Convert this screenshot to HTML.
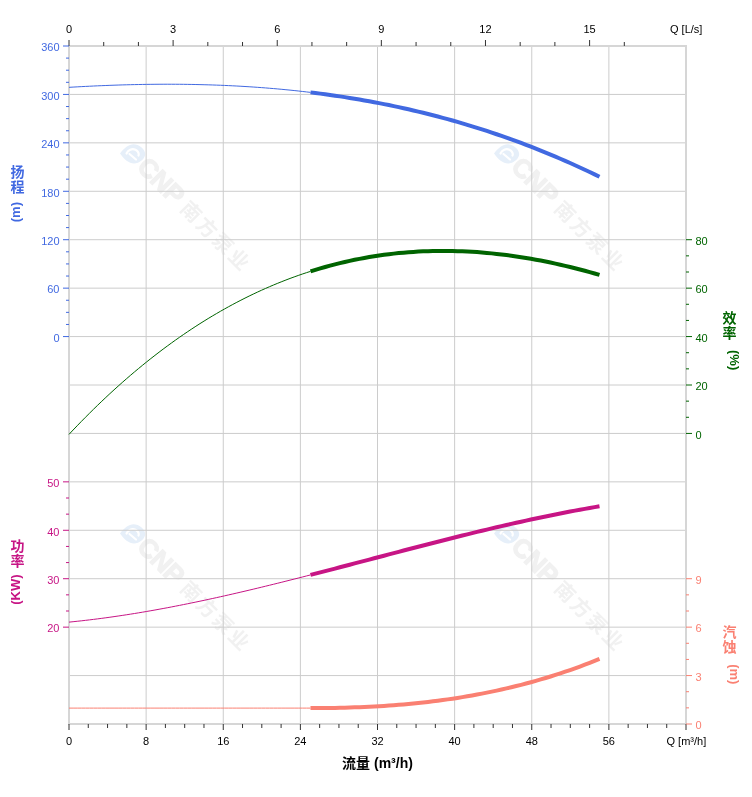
<!DOCTYPE html>
<html><head><meta charset="utf-8"><title>Pump curve</title>
<style>
html,body{margin:0;padding:0;background:#fff;}
body{width:752px;height:797px;overflow:hidden;position:relative;}
svg{position:absolute;left:0;top:0;}
.lbl{font-family:"Liberation Sans",Arial,sans-serif;font-size:11px;}
.ttl{font-family:"Liberation Sans","Noto Sans CJK SC",sans-serif;font-size:13px;font-weight:bold;}
.cjk{font-family:"Liberation Sans","Noto Sans CJK SC",sans-serif;font-size:14px;font-weight:bold;}
.wm{font-family:"Liberation Sans","Noto Sans CJK SC",sans-serif;}
</style></head><body>

<svg width="752" height="797" viewBox="0 0 752 797">

<g transform="translate(133,154)">
<path d="M-13,-0.4 C-9,-6 -4,-9.6 0.5,-9.7 C6,-9.7 12,-5 12.2,0 C12.2,5 6,9.6 1,9.5 C-4,9.5 -9,5.5 -13,-0.4 Z" fill="#e6eff9"/>
<path d="M3,5.5 L-3.5,0 M-6.5,-0.5 C-5,-4 -1,-5.8 2.5,-4.2 C5.2,-3 6.3,0 5.5,1.5" fill="none" stroke="#fff" stroke-width="2.2" stroke-linecap="round"/>
</g>
<g transform="translate(133,154) rotate(45)">
<text class="wm" x="12" y="8" font-size="26" font-weight="bold" letter-spacing="-0.5" fill="#f1f1f1" stroke="#f1f1f1" stroke-width="1.2">CNP</text>
<text class="wm" x="72" y="7" font-size="20" font-weight="bold" letter-spacing="2.5" fill="#f1f1f1">南方泵业</text>
</g>
<g transform="translate(507,154)">
<path d="M-13,-0.4 C-9,-6 -4,-9.6 0.5,-9.7 C6,-9.7 12,-5 12.2,0 C12.2,5 6,9.6 1,9.5 C-4,9.5 -9,5.5 -13,-0.4 Z" fill="#e6eff9"/>
<path d="M3,5.5 L-3.5,0 M-6.5,-0.5 C-5,-4 -1,-5.8 2.5,-4.2 C5.2,-3 6.3,0 5.5,1.5" fill="none" stroke="#fff" stroke-width="2.2" stroke-linecap="round"/>
</g>
<g transform="translate(507,154) rotate(45)">
<text class="wm" x="12" y="8" font-size="26" font-weight="bold" letter-spacing="-0.5" fill="#f1f1f1" stroke="#f1f1f1" stroke-width="1.2">CNP</text>
<text class="wm" x="72" y="7" font-size="20" font-weight="bold" letter-spacing="2.5" fill="#f1f1f1">南方泵业</text>
</g>
<g transform="translate(133,534)">
<path d="M-13,-0.4 C-9,-6 -4,-9.6 0.5,-9.7 C6,-9.7 12,-5 12.2,0 C12.2,5 6,9.6 1,9.5 C-4,9.5 -9,5.5 -13,-0.4 Z" fill="#e6eff9"/>
<path d="M3,5.5 L-3.5,0 M-6.5,-0.5 C-5,-4 -1,-5.8 2.5,-4.2 C5.2,-3 6.3,0 5.5,1.5" fill="none" stroke="#fff" stroke-width="2.2" stroke-linecap="round"/>
</g>
<g transform="translate(133,534) rotate(45)">
<text class="wm" x="12" y="8" font-size="26" font-weight="bold" letter-spacing="-0.5" fill="#f1f1f1" stroke="#f1f1f1" stroke-width="1.2">CNP</text>
<text class="wm" x="72" y="7" font-size="20" font-weight="bold" letter-spacing="2.5" fill="#f1f1f1">南方泵业</text>
</g>
<g transform="translate(507,534)">
<path d="M-13,-0.4 C-9,-6 -4,-9.6 0.5,-9.7 C6,-9.7 12,-5 12.2,0 C12.2,5 6,9.6 1,9.5 C-4,9.5 -9,5.5 -13,-0.4 Z" fill="#e6eff9"/>
<path d="M3,5.5 L-3.5,0 M-6.5,-0.5 C-5,-4 -1,-5.8 2.5,-4.2 C5.2,-3 6.3,0 5.5,1.5" fill="none" stroke="#fff" stroke-width="2.2" stroke-linecap="round"/>
</g>
<g transform="translate(507,534) rotate(45)">
<text class="wm" x="12" y="8" font-size="26" font-weight="bold" letter-spacing="-0.5" fill="#f1f1f1" stroke="#f1f1f1" stroke-width="1.2">CNP</text>
<text class="wm" x="72" y="7" font-size="20" font-weight="bold" letter-spacing="2.5" fill="#f1f1f1">南方泵业</text>
</g>
<path d="M69.0,94.429H686.0M69.0,142.857H686.0M69.0,191.286H686.0M69.0,239.714H686.0M69.0,288.143H686.0M69.0,336.571H686.0M69.0,385.000H686.0M69.0,433.429H686.0M69.0,481.857H686.0M69.0,530.286H686.0M69.0,578.714H686.0M69.0,627.143H686.0M69.0,675.571H686.0M146.125,46.0V724.0M223.250,46.0V724.0M300.375,46.0V724.0M377.500,46.0V724.0M454.625,46.0V724.0M531.750,46.0V724.0M608.875,46.0V724.0" stroke="#cccccc" stroke-width="1" fill="none"/>
<rect x="69.0" y="46.0" width="617.0" height="678.0" fill="none" stroke="#d6d6d6" stroke-width="2"/>
<path d="M69.000,46.0v-6M103.706,46.0v-4M138.413,46.0v-4M173.119,46.0v-6M207.825,46.0v-4M242.531,46.0v-4M277.238,46.0v-6M311.944,46.0v-4M346.650,46.0v-4M381.356,46.0v-6M416.063,46.0v-4M450.769,46.0v-4M485.475,46.0v-6M520.181,46.0v-4M554.888,46.0v-4M589.594,46.0v-6M624.300,46.0v-4" stroke="#333" stroke-width="1" fill="none"/>
<path d="M69.000,724.0v6M88.281,724.0v4M107.562,724.0v4M126.844,724.0v4M146.125,724.0v6M165.406,724.0v4M184.688,724.0v4M203.969,724.0v4M223.250,724.0v6M242.531,724.0v4M261.812,724.0v4M281.094,724.0v4M300.375,724.0v6M319.656,724.0v4M338.938,724.0v4M358.219,724.0v4M377.500,724.0v6M396.781,724.0v4M416.062,724.0v4M435.344,724.0v4M454.625,724.0v6M473.906,724.0v4M493.188,724.0v4M512.469,724.0v4M531.750,724.0v6M551.031,724.0v4M570.312,724.0v4M589.594,724.0v4M608.875,724.0v6M628.156,724.0v4M647.438,724.0v4M666.719,724.0v4M686.000,724.0v6" stroke="#333" stroke-width="1" fill="none"/>
<path d="M69.0,336.571h-6M69.0,324.464h-3M69.0,312.357h-3M69.0,300.250h-3M69.0,288.143h-6M69.0,276.036h-3M69.0,263.929h-3M69.0,251.821h-3M69.0,239.714h-6M69.0,227.607h-3M69.0,215.500h-3M69.0,203.393h-3M69.0,191.286h-6M69.0,179.179h-3M69.0,167.071h-3M69.0,154.964h-3M69.0,142.857h-6M69.0,130.750h-3M69.0,118.643h-3M69.0,106.536h-3M69.0,94.429h-6M69.0,82.321h-3M69.0,70.214h-3M69.0,58.107h-3M69.0,46.000h-6" stroke="#4169e1" stroke-width="1" fill="none"/>
<path d="M69.0,627.143h-6M69.0,611.000h-3M69.0,594.857h-3M69.0,578.714h-6M69.0,562.571h-3M69.0,546.429h-3M69.0,530.286h-6M69.0,514.143h-3M69.0,498.000h-3M69.0,481.857h-6" stroke="#c71585" stroke-width="1" fill="none"/>
<path d="M686.0,433.429h6M686.0,417.286h3M686.0,401.143h3M686.0,385.000h6M686.0,368.857h3M686.0,352.714h3M686.0,336.571h6M686.0,320.429h3M686.0,304.286h3M686.0,288.143h6M686.0,272.000h3M686.0,255.857h3M686.0,239.714h6" stroke="#006400" stroke-width="1" fill="none"/>
<path d="M686.0,724.000h6M686.0,707.857h3M686.0,691.714h3M686.0,675.571h6M686.0,659.429h3M686.0,643.286h3M686.0,627.143h6M686.0,611.000h3M686.0,594.857h3M686.0,578.714h6" stroke="#fa8072" stroke-width="1" fill="none"/>
<g class="lbl"><text x="69.00" y="33" text-anchor="middle" fill="#000">0</text>
<text x="173.12" y="33" text-anchor="middle" fill="#000">3</text>
<text x="277.24" y="33" text-anchor="middle" fill="#000">6</text>
<text x="381.36" y="33" text-anchor="middle" fill="#000">9</text>
<text x="485.48" y="33" text-anchor="middle" fill="#000">12</text>
<text x="589.59" y="33" text-anchor="middle" fill="#000">15</text>
<text x="670" y="33" fill="#000">Q [L/s]</text>
<text x="69.00" y="745" text-anchor="middle" fill="#000">0</text>
<text x="146.12" y="745" text-anchor="middle" fill="#000">8</text>
<text x="223.25" y="745" text-anchor="middle" fill="#000">16</text>
<text x="300.38" y="745" text-anchor="middle" fill="#000">24</text>
<text x="377.50" y="745" text-anchor="middle" fill="#000">32</text>
<text x="454.62" y="745" text-anchor="middle" fill="#000">40</text>
<text x="531.75" y="745" text-anchor="middle" fill="#000">48</text>
<text x="608.88" y="745" text-anchor="middle" fill="#000">56</text>
<text x="666.5" y="745" fill="#000">Q [m³/h]</text>
<text x="59.5" y="51.30" text-anchor="end" fill="#4169e1">360</text>
<text x="59.5" y="99.73" text-anchor="end" fill="#4169e1">300</text>
<text x="59.5" y="148.16" text-anchor="end" fill="#4169e1">240</text>
<text x="59.5" y="196.59" text-anchor="end" fill="#4169e1">180</text>
<text x="59.5" y="245.01" text-anchor="end" fill="#4169e1">120</text>
<text x="59.5" y="293.44" text-anchor="end" fill="#4169e1">60</text>
<text x="59.5" y="341.87" text-anchor="end" fill="#4169e1">0</text>
<text x="59.5" y="487.16" text-anchor="end" fill="#c71585">50</text>
<text x="59.5" y="535.59" text-anchor="end" fill="#c71585">40</text>
<text x="59.5" y="584.01" text-anchor="end" fill="#c71585">30</text>
<text x="59.5" y="632.44" text-anchor="end" fill="#c71585">20</text>
<text x="695.5" y="245.01" fill="#006400">80</text>
<text x="695.5" y="293.44" fill="#006400">60</text>
<text x="695.5" y="341.87" fill="#006400">40</text>
<text x="695.5" y="390.30" fill="#006400">20</text>
<text x="695.5" y="438.73" fill="#006400">0</text>
<text x="695.5" y="584.01" fill="#fa8072">9</text>
<text x="695.5" y="632.44" fill="#fa8072">6</text>
<text x="695.5" y="680.87" fill="#fa8072">3</text>
<text x="695.5" y="729.30" fill="#fa8072">0</text></g>
<path d="M69.00,87.33 L73.09,87.09 L77.19,86.86 L81.28,86.64 L85.37,86.43 L89.47,86.22 L93.56,86.03 L97.65,85.84 L101.75,85.66 L105.84,85.50 L109.93,85.34 L114.03,85.19 L118.12,85.05 L122.21,84.92 L126.31,84.81 L130.40,84.70 L134.49,84.60 L138.58,84.52 L142.68,84.44 L146.77,84.38 L150.86,84.33 L154.96,84.29 L159.05,84.26 L163.14,84.24 L167.24,84.23 L171.33,84.24 L175.42,84.25 L179.52,84.28 L183.61,84.32 L187.70,84.38 L191.80,84.44 L195.89,84.52 L199.98,84.61 L204.08,84.72 L208.17,84.83 L212.26,84.96 L216.36,85.11 L220.45,85.26 L224.54,85.43 L228.64,85.62 L232.73,85.82 L236.82,86.03 L240.92,86.26 L245.01,86.50 L249.10,86.75 L253.19,87.02 L257.29,87.30 L261.38,87.60 L265.47,87.92 L269.57,88.25 L273.66,88.59 L277.75,88.95 L281.85,89.32 L285.94,89.72 L290.03,90.12 L294.13,90.54 L298.22,90.98 L302.31,91.44 L306.41,91.91 L310.50,92.39" stroke="#4169e1" stroke-width="1" fill="none"/>
<path d="M310.50,92.39 L315.40,93.00 L320.30,93.63 L325.19,94.28 L330.09,94.96 L334.99,95.66 L339.89,96.39 L344.79,97.14 L349.69,97.92 L354.58,98.72 L359.48,99.55 L364.38,100.41 L369.28,101.29 L374.18,102.20 L379.08,103.13 L383.97,104.09 L388.87,105.08 L393.77,106.10 L398.67,107.15 L403.57,108.22 L408.47,109.32 L413.36,110.45 L418.26,111.61 L423.16,112.79 L428.06,114.01 L432.96,115.25 L437.86,116.53 L442.75,117.84 L447.65,119.17 L452.55,120.54 L457.45,121.93 L462.35,123.36 L467.25,124.82 L472.14,126.31 L477.04,127.83 L481.94,129.38 L486.84,130.96 L491.74,132.58 L496.64,134.23 L501.53,135.91 L506.43,137.62 L511.33,139.37 L516.23,141.15 L521.13,142.97 L526.03,144.82 L530.92,146.70 L535.82,148.62 L540.72,150.57 L545.62,152.55 L550.52,154.57 L555.42,156.63 L560.31,158.72 L565.21,160.85 L570.11,163.02 L575.01,165.22 L579.91,167.45 L584.81,169.73 L589.70,172.04 L594.60,174.38 L599.50,176.77" stroke="#4169e1" stroke-width="4" fill="none"/>
<path d="M69.00,434.36 L73.09,430.03 L77.19,425.75 L81.28,421.53 L85.37,417.37 L89.47,413.27 L93.56,409.22 L97.65,405.24 L101.75,401.31 L105.84,397.44 L109.93,393.62 L114.03,389.86 L118.12,386.16 L122.21,382.52 L126.31,378.93 L130.40,375.40 L134.49,371.92 L138.58,368.50 L142.68,365.13 L146.77,361.82 L150.86,358.56 L154.96,355.36 L159.05,352.21 L163.14,349.12 L167.24,346.07 L171.33,343.09 L175.42,340.15 L179.52,337.27 L183.61,334.44 L187.70,331.66 L191.80,328.93 L195.89,326.26 L199.98,323.64 L204.08,321.06 L208.17,318.54 L212.26,316.07 L216.36,313.66 L220.45,311.29 L224.54,308.97 L228.64,306.70 L232.73,304.48 L236.82,302.31 L240.92,300.19 L245.01,298.11 L249.10,296.09 L253.19,294.11 L257.29,292.18 L261.38,290.30 L265.47,288.47 L269.57,286.68 L273.66,284.95 L277.75,283.25 L281.85,281.61 L285.94,280.01 L290.03,278.45 L294.13,276.95 L298.22,275.48 L302.31,274.06 L306.41,272.69 L310.50,271.36" stroke="#006400" stroke-width="1" fill="none"/>
<path d="M310.50,271.36 L315.40,269.83 L320.30,268.36 L325.19,266.96 L330.09,265.62 L334.99,264.34 L339.89,263.12 L344.79,261.96 L349.69,260.86 L354.58,259.82 L359.48,258.84 L364.38,257.92 L369.28,257.06 L374.18,256.26 L379.08,255.52 L383.97,254.83 L388.87,254.20 L393.77,253.63 L398.67,253.11 L403.57,252.65 L408.47,252.24 L413.36,251.89 L418.26,251.59 L423.16,251.35 L428.06,251.16 L432.96,251.03 L437.86,250.94 L442.75,250.91 L447.65,250.93 L452.55,251.00 L457.45,251.13 L462.35,251.30 L467.25,251.53 L472.14,251.80 L477.04,252.12 L481.94,252.49 L486.84,252.91 L491.74,253.38 L496.64,253.89 L501.53,254.46 L506.43,255.07 L511.33,255.72 L516.23,256.42 L521.13,257.17 L526.03,257.96 L530.92,258.79 L535.82,259.67 L540.72,260.59 L545.62,261.56 L550.52,262.57 L555.42,263.62 L560.31,264.71 L565.21,265.85 L570.11,267.02 L575.01,268.24 L579.91,269.49 L584.81,270.79 L589.70,272.12 L594.60,273.49 L599.50,274.91" stroke="#006400" stroke-width="4" fill="none"/>
<path d="M69.00,622.13 L73.09,621.71 L77.19,621.28 L81.28,620.84 L85.37,620.37 L89.47,619.89 L93.56,619.39 L97.65,618.87 L101.75,618.34 L105.84,617.79 L109.93,617.22 L114.03,616.64 L118.12,616.04 L122.21,615.43 L126.31,614.80 L130.40,614.16 L134.49,613.50 L138.58,612.83 L142.68,612.15 L146.77,611.45 L150.86,610.73 L154.96,610.00 L159.05,609.26 L163.14,608.51 L167.24,607.75 L171.33,606.97 L175.42,606.18 L179.52,605.38 L183.61,604.56 L187.70,603.74 L191.80,602.90 L195.89,602.05 L199.98,601.20 L204.08,600.33 L208.17,599.45 L212.26,598.56 L216.36,597.66 L220.45,596.76 L224.54,595.84 L228.64,594.91 L232.73,593.98 L236.82,593.04 L240.92,592.09 L245.01,591.13 L249.10,590.16 L253.19,589.19 L257.29,588.21 L261.38,587.22 L265.47,586.23 L269.57,585.23 L273.66,584.22 L277.75,583.21 L281.85,582.19 L285.94,581.17 L290.03,580.14 L294.13,579.10 L298.22,578.07 L302.31,577.02 L306.41,575.98 L310.50,574.93" stroke="#c71585" stroke-width="1" fill="none"/>
<path d="M310.50,574.93 L315.40,573.67 L320.30,572.40 L325.19,571.13 L330.09,569.85 L334.99,568.58 L339.89,567.29 L344.79,566.01 L349.69,564.72 L354.58,563.44 L359.48,562.15 L364.38,560.86 L369.28,559.57 L374.18,558.28 L379.08,556.99 L383.97,555.70 L388.87,554.41 L393.77,553.12 L398.67,551.84 L403.57,550.56 L408.47,549.28 L413.36,548.00 L418.26,546.73 L423.16,545.47 L428.06,544.20 L432.96,542.95 L437.86,541.69 L442.75,540.45 L447.65,539.21 L452.55,537.98 L457.45,536.75 L462.35,535.53 L467.25,534.33 L472.14,533.12 L477.04,531.93 L481.94,530.75 L486.84,529.58 L491.74,528.42 L496.64,527.26 L501.53,526.12 L506.43,524.99 L511.33,523.88 L516.23,522.77 L521.13,521.68 L526.03,520.60 L530.92,519.54 L535.82,518.49 L540.72,517.45 L545.62,516.43 L550.52,515.43 L555.42,514.44 L560.31,513.46 L565.21,512.51 L570.11,511.57 L575.01,510.65 L579.91,509.74 L584.81,508.86 L589.70,507.99 L594.60,507.14 L599.50,506.31" stroke="#c71585" stroke-width="4" fill="none"/>
<path d="M69.00,708.10 L73.09,708.10 L77.19,708.10 L81.28,708.10 L85.37,708.10 L89.47,708.10 L93.56,708.10 L97.65,708.10 L101.75,708.10 L105.84,708.10 L109.93,708.10 L114.03,708.10 L118.12,708.10 L122.21,708.10 L126.31,708.10 L130.40,708.10 L134.49,708.10 L138.58,708.10 L142.68,708.10 L146.77,708.10 L150.86,708.10 L154.96,708.10 L159.05,708.10 L163.14,708.10 L167.24,708.10 L171.33,708.10 L175.42,708.10 L179.52,708.10 L183.61,708.10 L187.70,708.10 L191.80,708.10 L195.89,708.10 L199.98,708.10 L204.08,708.10 L208.17,708.10 L212.26,708.10 L216.36,708.10 L220.45,708.10 L224.54,708.10 L228.64,708.10 L232.73,708.10 L236.82,708.10 L240.92,708.10 L245.01,708.10 L249.10,708.10 L253.19,708.10 L257.29,708.10 L261.38,708.10 L265.47,708.10 L269.57,708.10 L273.66,708.10 L277.75,708.10 L281.85,708.10 L285.94,708.10 L290.03,708.10 L294.13,708.10 L298.22,708.10 L302.31,708.10 L306.41,708.10 L310.50,708.10" stroke="#fa8072" stroke-width="1" fill="none"/>
<path d="M310.50,708.10 L315.40,708.09 L320.30,708.07 L325.19,708.03 L330.09,707.96 L334.99,707.88 L339.89,707.78 L344.79,707.66 L349.69,707.52 L354.58,707.36 L359.48,707.17 L364.38,706.96 L369.28,706.73 L374.18,706.47 L379.08,706.19 L383.97,705.89 L388.87,705.55 L393.77,705.20 L398.67,704.81 L403.57,704.40 L408.47,703.96 L413.36,703.49 L418.26,703.00 L423.16,702.47 L428.06,701.91 L432.96,701.32 L437.86,700.70 L442.75,700.05 L447.65,699.37 L452.55,698.65 L457.45,697.90 L462.35,697.12 L467.25,696.30 L472.14,695.44 L477.04,694.55 L481.94,693.62 L486.84,692.66 L491.74,691.65 L496.64,690.61 L501.53,689.53 L506.43,688.41 L511.33,687.26 L516.23,686.06 L521.13,684.82 L526.03,683.53 L530.92,682.21 L535.82,680.84 L540.72,679.43 L545.62,677.97 L550.52,676.47 L555.42,674.93 L560.31,673.34 L565.21,671.70 L570.11,670.02 L575.01,668.29 L579.91,666.51 L584.81,664.68 L589.70,662.80 L594.60,660.87 L599.50,658.90" stroke="#fa8072" stroke-width="4" fill="none"/>
<text x="10.5" y="177.0" fill="#4169e1" class="cjk">扬</text>
<text x="10.5" y="191.8" fill="#4169e1" class="cjk">程</text>
<text transform="translate(20.3,202) rotate(-90)" text-anchor="end" fill="#4169e1" class="ttl">(m)</text>
<text x="10.5" y="551.0" fill="#c71585" class="cjk">功</text>
<text x="10.5" y="565.8" fill="#c71585" class="cjk">率</text>
<text transform="translate(20.3,574.4) rotate(-90)" text-anchor="end" fill="#c71585" class="ttl">(KW)</text>
<text x="722.5" y="323.0" fill="#006400" class="cjk">效</text>
<text x="722.5" y="337.8" fill="#006400" class="cjk">率</text>
<text transform="translate(729.5,350) rotate(90)" fill="#006400" class="ttl">(%)</text>
<text x="722.5" y="637.0" fill="#fa8072" class="cjk">汽</text>
<text x="722.5" y="651.8" fill="#fa8072" class="cjk">蚀</text>
<text transform="translate(729.5,664.2) rotate(90)" fill="#fa8072" class="ttl">(m)</text>
<text x="377.5" y="768" text-anchor="middle" class="ttl" font-size="14" fill="#000" style="font-size:14px">流量 (m³/h)</text>
</svg>
</body></html>
